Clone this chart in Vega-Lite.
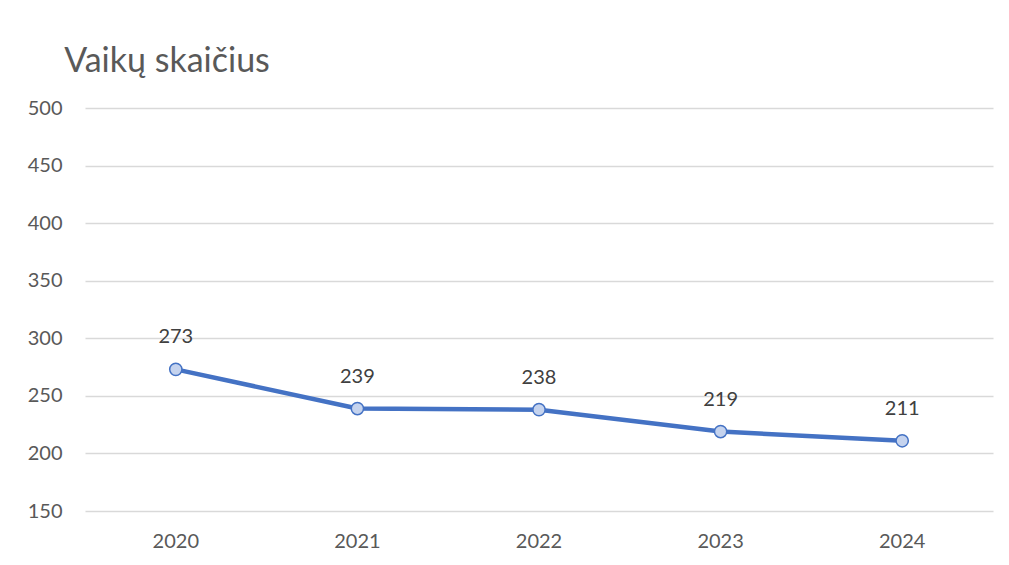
{
  "$schema": "https://vega.github.io/schema/vega-lite/v6.json",
  "autosize": {"type": "none"},
  "width": 908,
  "height": 403,
  "padding": {"left": 85, "top": 108, "right": 16, "bottom": 54},
  "background": "white",
  "title": {
    "text": "Vaikų skaičius",
    "anchor": "start",
    "dx": 37,
    "offset": -8,
    "baseline": "alphabetic",
    "font": "Lato",
    "fontSize": 34,
    "fontWeight": "normal",
    "color": "#595959"
  },
  "config": {
    "view": {"stroke": null},
    "font": "Lato"
  },
  "data": {
    "values": [
      {"year": "2020", "value": 273},
      {"year": "2021", "value": 239},
      {"year": "2022", "value": 238},
      {"year": "2023", "value": 219},
      {"year": "2024", "value": 211}
    ]
  },
  "encoding": {
    "x": {
      "field": "year",
      "type": "ordinal",
      "scale": {"type": "band", "paddingInner": 0, "paddingOuter": 0},
      "axis": {
        "title": null,
        "labelAngle": 0,
        "domain": false,
        "ticks": false,
        "grid": false,
        "labelFontSize": 20,
        "labelColor": "#595959",
        "labelPadding": 20,
        "labelFont": "Lato"
      }
    },
    "y": {
      "field": "value",
      "type": "quantitative",
      "scale": {"domain": [150, 500], "nice": false, "zero": false},
      "axis": {
        "title": null,
        "values": [150, 200, 250, 300, 350, 400, 450, 500],
        "domain": false,
        "ticks": false,
        "grid": true,
        "gridColor": "#d9d9d9",
        "gridWidth": 1.3,
        "labelFontSize": 20,
        "labelColor": "#595959",
        "labelPadding": 23,
        "labelFont": "Lato"
      }
    }
  },
  "layer": [
    {
      "mark": {"type": "line", "color": "#4472C4", "strokeWidth": 4.5, "strokeCap": "round", "strokeJoin": "round"}
    },
    {
      "mark": {"type": "point", "shape": "circle", "size": 150, "filled": true, "fill": "#c5d3ee", "stroke": "#4472C4", "strokeWidth": 1.5, "opacity": 1}
    },
    {
      "mark": {"type": "text", "dy": -32, "fontSize": 20, "color": "#404040", "font": "Lato"},
      "encoding": {"text": {"field": "value", "type": "quantitative"}}
    }
  ]
}
